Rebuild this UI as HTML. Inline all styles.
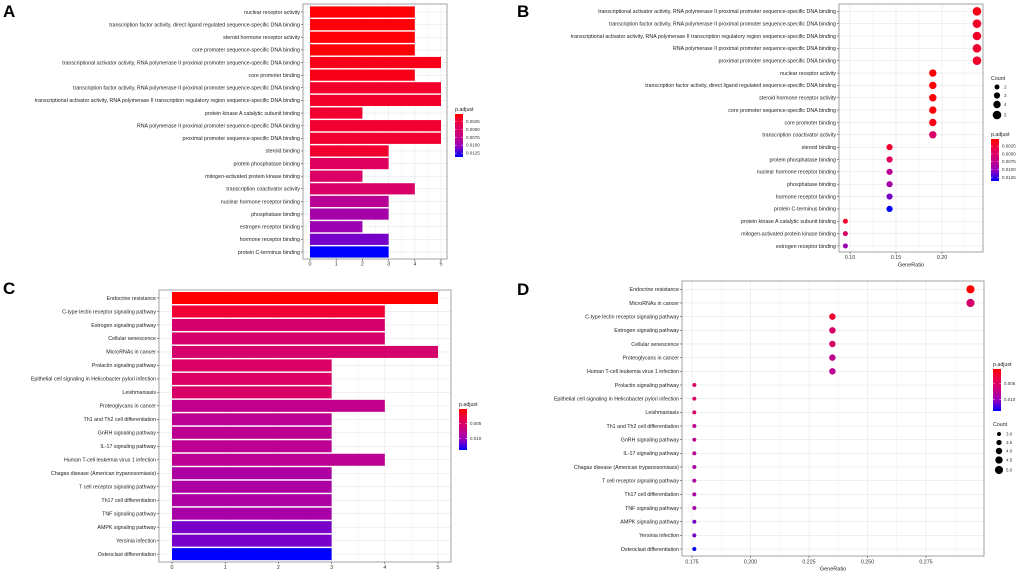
<!DOCTYPE html>
<html><head><meta charset="utf-8">
<style>
html,body{margin:0;padding:0;background:#fff;}
svg{display:block;font-family:"Liberation Sans",sans-serif;}
</style></head>
<body>
<svg id="fig" width="1020" height="575" viewBox="0 0 1020 575" xmlns="http://www.w3.org/2000/svg">
<defs>
<linearGradient id="pgrad" x1="0" y1="0" x2="0" y2="1">
<stop offset="0" stop-color="#FF0000"/><stop offset="0.25" stop-color="#E8004F"/><stop offset="0.5" stop-color="#C80083"/><stop offset="0.75" stop-color="#9500BC"/><stop offset="1" stop-color="#0000FF"/>
</linearGradient>
</defs>
</svg>
<script>
// ---------- Panel A / B data (GO) ----------
const goTermsA = ["nuclear receptor activity","transcription factor activity, direct ligand regulated sequence-specific DNA binding","steroid hormone receptor activity","core promoter sequence-specific DNA binding","transcriptional activator activity, RNA polymerase II proximal promoter sequence-specific DNA binding","core promoter binding","transcription factor activity, RNA polymerase II proximal promoter sequence-specific DNA binding","transcriptional activator activity, RNA polymerase II transcription regulatory region sequence-specific DNA binding","protein kinase A catalytic subunit binding","RNA polymerase II proximal promoter sequence-specific DNA binding","proximal promoter sequence-specific DNA binding","steroid binding","protein phosphatase binding","mitogen-activated protein kinase binding","transcription coactivator activity","nuclear hormone receptor binding","phosphatase binding","estrogen receptor binding","hormone receptor binding","protein C-terminus binding"];
const goCountsA = [4,4,4,4,5,4,5,5,2,5,5,3,3,2,4,3,3,2,3,3];
const goPvalsA = [0.0004,0.0004,0.0004,0.0004,0.0012,0.0012,0.0020,0.0020,0.0022,0.0022,0.0022,0.0022,0.0045,0.0050,0.0052,0.0080,0.0092,0.0098,0.0110,0.0137];
const goTermsB = ["transcriptional activator activity, RNA polymerase II proximal promoter sequence-specific DNA binding","transcription factor activity, RNA polymerase II proximal promoter sequence-specific DNA binding","transcriptional activator activity, RNA polymerase II transcription regulatory region sequence-specific DNA binding","RNA polymerase II proximal promoter sequence-specific DNA binding","proximal promoter sequence-specific DNA binding","nuclear receptor activity","transcription factor activity, direct ligand regulated sequence-specific DNA binding","steroid hormone receptor activity","core promoter sequence-specific DNA binding","core promoter binding","transcription coactivator activity","steroid binding","protein phosphatase binding","nuclear hormone receptor binding","phosphatase binding","hormone receptor binding","protein C-terminus binding","protein kinase A catalytic subunit binding","mitogen-activated protein kinase binding","estrogen receptor binding"];
const goRatioB = [0.238,0.238,0.238,0.238,0.238,0.190,0.190,0.190,0.190,0.190,0.190,0.143,0.143,0.143,0.143,0.143,0.143,0.095,0.095,0.095];
const goCountsB = [5,5,5,5,5,4,4,4,4,4,4,3,3,3,3,3,3,2,2,2];
const goPvalsB = [0.0012,0.0020,0.0020,0.0022,0.0022,0.0004,0.0004,0.0004,0.0004,0.0012,0.0052,0.0022,0.0045,0.0080,0.0092,0.0110,0.0137,0.0022,0.0050,0.0098];
const goTickLabels = ["0.0025","0.0050","0.0075","0.0100","0.0125"];
const goTickVals = [0.0025,0.0050,0.0075,0.0100,0.0125];
// ---------- Panel C / D data (KEGG) ----------
const keggTermsC = ["Endocrine resistance","C-type lectin receptor signaling pathway","Estrogen signaling pathway","Cellular senescence","MicroRNAs in cancer","Prolactin signaling pathway","Epithelial cell signaling in Helicobacter pylori infection","Leishmaniasis","Proteoglycans in cancer","Th1 and Th2 cell differentiation","GnRH signaling pathway","IL-17 signaling pathway","Human T-cell leukemia virus 1 infection","Chagas disease (American trypanosomiasis)","T cell receptor signaling pathway","Th17 cell differentiation","TNF signaling pathway","AMPK signaling pathway","Yersinia infection","Osteoclast differentiation"];
const keggCountsC = [5,4,4,4,5,3,3,3,4,3,3,3,4,3,3,3,3,3,3,3];
const keggPvalsC = [0.0003,0.0025,0.0055,0.0055,0.0055,0.0050,0.0050,0.0052,0.0075,0.0078,0.0078,0.0078,0.0078,0.0088,0.0088,0.0088,0.0092,0.0110,0.0110,0.0137];
const keggTermsD = ["Endocrine resistance","MicroRNAs in cancer","C-type lectin receptor signaling pathway","Estrogen signaling pathway","Cellular senescence","Proteoglycans in cancer","Human T-cell leukemia virus 1 infection","Prolactin signaling pathway","Epithelial cell signaling in Helicobacter pylori infection","Leishmaniasis","Th1 and Th2 cell differentiation","GnRH signaling pathway","IL-17 signaling pathway","Chagas disease (American trypanosomiasis)","T cell receptor signaling pathway","Th17 cell differentiation","TNF signaling pathway","AMPK signaling pathway","Yersinia infection","Osteoclast differentiation"];
const keggRatioD = [0.294,0.294,0.235,0.235,0.235,0.235,0.235,0.176,0.176,0.176,0.176,0.176,0.176,0.176,0.176,0.176,0.176,0.176,0.176,0.176];
const keggCountsD = [5,5,4,4,4,4,4,3,3,3,3,3,3,3,3,3,3,3,3,3];
const keggPvalsD = [0.0003,0.0055,0.0025,0.0055,0.0055,0.0075,0.0078,0.0050,0.0050,0.0052,0.0078,0.0078,0.0078,0.0088,0.0088,0.0088,0.0092,0.0110,0.0110,0.0137];
const keggTickLabels = ["0.005","0.010"];
const keggTickVals = [0.005,0.010];
const barTicks = [0,1,2,3,4,5];
const ratioTicksB = [0.10,0.15,0.20];
const ratioTicksD = [0.175,0.200,0.225,0.250,0.275];
const countLegendB = [2,3,4,5];
const countLegendD = [3.0,3.5,4.0,4.5,5.0];

const NS="http://www.w3.org/2000/svg";
const svg=document.getElementById('fig');
function mk(tag,attrs,parent,text){const e=document.createElementNS(NS,tag);for(const k in attrs)e.setAttribute(k,attrs[k]);if(text!==undefined)e.textContent=text;(parent||svg).appendChild(e);return e;}
const stops=[[255,0,0],[232,0,79],[200,0,131],[149,0,188],[0,0,255]];
function pcol(p,pmin,pmax){let t=(p-pmin)/(pmax-pmin);t=Math.max(0,Math.min(1,t));const s=t*4;const i=Math.min(3,Math.floor(s));const f=s-i;const a=stops[i],b=stops[i+1];return 'rgb('+a.map((v,k)=>Math.round(v+(b[k]-v)*f)).join(',')+')';}

function frame(g,L,R,T,B,xs,ticks,minor,rowY,n){
  mk('rect',{x:L,y:T,width:R-L,height:B-T,fill:'#fff'},g);
  minor.forEach(v=>mk('line',{x1:xs(v),x2:xs(v),y1:T,y2:B,stroke:'#f2f2f2','stroke-width':0.5},g));
  ticks.forEach(v=>mk('line',{x1:xs(v),x2:xs(v),y1:T,y2:B,stroke:'#e6e6e6','stroke-width':0.6},g));
  for(let i=0;i<n;i++)mk('line',{x1:L,x2:R,y1:rowY(i),y2:rowY(i),stroke:'#e6e6e6','stroke-width':0.6},g);
}
function border(g,L,R,T,B){mk('rect',{x:L,y:T,width:R-L,height:B-T,fill:'none',stroke:'#999','stroke-width':0.9},g);}
function yLabels(g,terms,L,rowY){terms.forEach((t,i)=>{const y=rowY(i);mk('line',{x1:L-2,x2:L,y1:y,y2:y,stroke:'#333','stroke-width':0.5},g);const tx=mk('text',{x:L-3,y:y+1.8,'font-size':5.3,fill:'#222','text-anchor':'end'},g,t);});}
function xLabels(g,ticks,labels,xs,B,ty){ticks.forEach((v,i)=>{mk('line',{x1:xs(v),x2:xs(v),y1:B,y2:B+2,stroke:'#333','stroke-width':0.5},g);const tx=mk('text',{x:xs(v),y:ty,'font-size':5.3,fill:'#333','text-anchor':'middle'},g,labels[i]);});}
function colorbar(g,x,yT,yB,pmin,pmax,tv,tl,titleY){
  const t=mk('text',{x:x,y:titleY,'font-size':5.3,fill:'#222'},g,'p.adjust');
  const r=mk('rect',{x:x,y:yT,width:8,height:yB-yT,fill:'url(#pgrad)'},g);
  tv.forEach((v,i)=>{const y=yT+(v-pmin)/(pmax-pmin)*(yB-yT);mk('line',{x1:x,x2:x+1.6,y1:y,y2:y,stroke:'#fff','stroke-width':0.5},g);mk('line',{x1:x+6.4,x2:x+8,y1:y,y2:y,stroke:'#fff','stroke-width':0.5},g);mk('text',{x:x+11,y:y+1.5,'font-size':4.5,fill:'#333'},g,tl[i]);});
}
function sizeLegend(g,x,titleY,vals,ys,rad,dec){
  const t=mk('text',{x:x,y:titleY,'font-size':5.3,fill:'#222'},g,'Count');
  vals.forEach((v,i)=>{const c=mk('circle',{cx:x+6,cy:ys[i],r:rad(v),fill:'#000'},g);mk('text',{x:x+13,y:ys[i]+1.5,'font-size':4.5,fill:'#333'},g,v.toFixed(dec));});
}
function letter(ch,x,y){const t=mk('text',{x:x,y:y,'font-size':17,'font-weight':'bold',fill:'#000'},svg,ch);}

// Panel A
(function(){
  const g=mk('g',{});
  const L=303,R=447,T=4,B=259,zero=310,unit=26.2,y0=12,step=12.63,pmin=0.0002,pmax=0.0137;
  const xs=v=>zero+v*unit, rowY=i=>y0+i*step;
  frame(g,L,R,T,B,xs,barTicks,[0.5,1.5,2.5,3.5,4.5],rowY,goTermsA.length);
  goTermsA.forEach((t,i)=>{const r=mk('rect',{x:xs(0),y:rowY(i)-5.6,width:xs(goCountsA[i])-xs(0),height:11.2,fill:pcol(goPvalsA[i],pmin,pmax)},g);});
  border(g,L,R,T,B);yLabels(g,goTermsA,L,rowY);xLabels(g,barTicks,barTicks.map(String),xs,B,265.5);
  colorbar(g,455,114,157,pmin,pmax,goTickVals,goTickLabels,111);
})();
// Panel B
(function(){
  const g=mk('g',{});
  const L=839,R=983,T=4,B=252,y0=11.3,step=12.35,pmin=0.0002,pmax=0.0137;
  const xs=v=>850+(v-0.10)*920, rowY=i=>y0+i*step, rad=c=>1.3+c*0.6;
  frame(g,L,R,T,B,xs,ratioTicksB,[0.125,0.175,0.225],rowY,goTermsB.length);
  goTermsB.forEach((t,i)=>{const c=mk('circle',{cx:xs(goRatioB[i]),cy:rowY(i),r:rad(goCountsB[i]),fill:pcol(goPvalsB[i],pmin,pmax)},g);});
  border(g,L,R,T,B);yLabels(g,goTermsB,L,rowY);xLabels(g,ratioTicksB,["0.10","0.15","0.20"],xs,B,259);
  mk('text',{x:911,y:266.5,'font-size':5.5,fill:'#222','text-anchor':'middle'},g,'GeneRatio');
  sizeLegend(g,991,80,countLegendB,[87,95.5,104.5,115],rad,0);
  colorbar(g,991,139,181,pmin,pmax,goTickVals,goTickLabels,136);
})();
// Panel C
(function(){
  const g=mk('g',{});
  const L=159,R=451,T=290,B=562,zero=172,unit=53.2,y0=298,step=13.48,pmin=0.0003,pmax=0.0137;
  const xs=v=>zero+v*unit, rowY=i=>y0+i*step;
  frame(g,L,R,T,B,xs,barTicks,[0.5,1.5,2.5,3.5,4.5],rowY,keggTermsC.length);
  keggTermsC.forEach((t,i)=>{const r=mk('rect',{x:xs(0),y:rowY(i)-6,width:xs(keggCountsC[i])-xs(0),height:12,fill:pcol(keggPvalsC[i],pmin,pmax)},g);});
  border(g,L,R,T,B);yLabels(g,keggTermsC,L,rowY);xLabels(g,barTicks,barTicks.map(String),xs,B,569);
  colorbar(g,459,409,450,pmin,pmax,keggTickVals,keggTickLabels,406);
})();
// Panel D
(function(){
  const g=mk('g',{});
  const L=682,R=984,T=281,B=556,y0=289.3,step=13.67,pmin=0.0003,pmax=0.0137;
  const xs=v=>692+(v-0.175)*2340, rowY=i=>y0+i*step, rad=c=>4.1*Math.sqrt((c-2.4)/2.6);
  frame(g,L,R,T,B,xs,ratioTicksD,[0.1875,0.2125,0.2375,0.2625,0.2875],rowY,keggTermsD.length);
  keggTermsD.forEach((t,i)=>{const c=mk('circle',{cx:xs(keggRatioD[i]),cy:rowY(i),r:rad(keggCountsD[i]),fill:pcol(keggPvalsD[i],pmin,pmax)},g);});
  border(g,L,R,T,B);yLabels(g,keggTermsD,L,rowY);xLabels(g,ratioTicksD,["0.175","0.200","0.225","0.250","0.275"],xs,B,563.5);
  mk('text',{x:833,y:570.5,'font-size':5.5,fill:'#222','text-anchor':'middle'},g,'GeneRatio');
  colorbar(g,993,369,411,pmin,pmax,keggTickVals,keggTickLabels,366);
  sizeLegend(g,993,426,countLegendD,[434,442.5,451,460,470],rad,1);
})();
letter('A',3,17);letter('B',517,17);letter('C',3,294);letter('D',517,295);
</script>
</body></html>
